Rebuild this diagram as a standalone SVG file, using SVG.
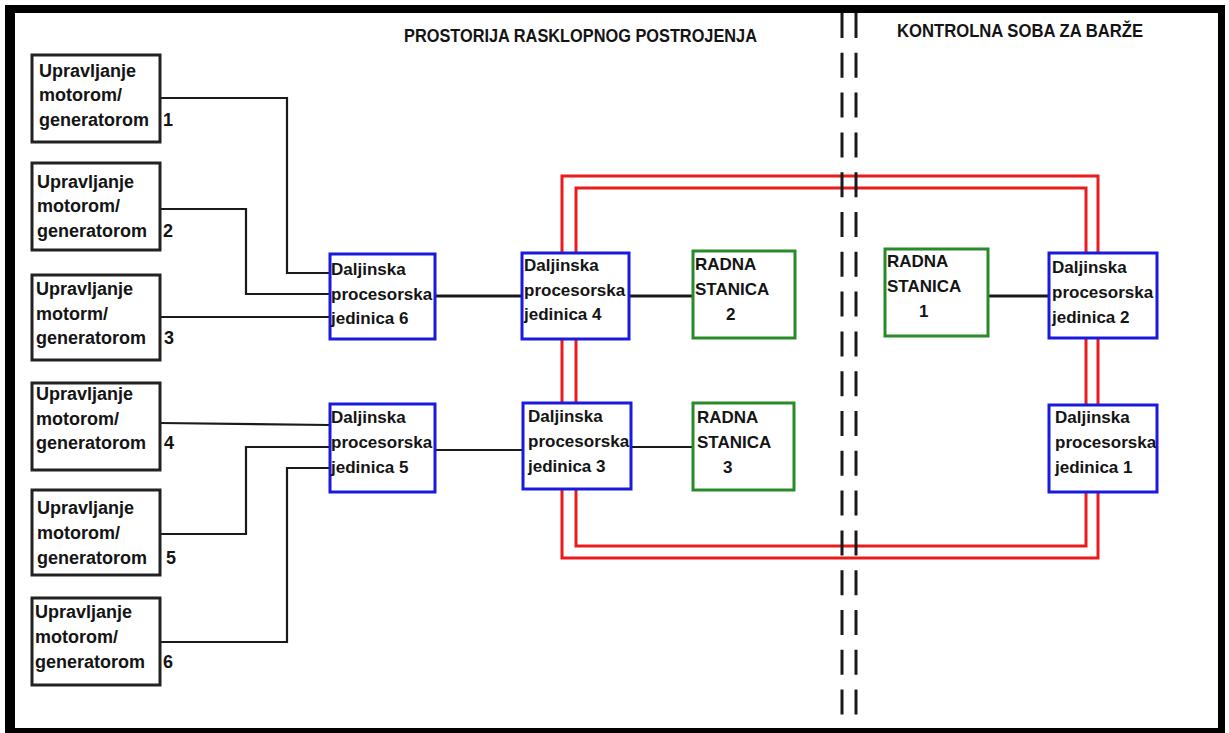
<svg xmlns="http://www.w3.org/2000/svg" width="1229" height="733" viewBox="0 0 1229 733">
<style>
text{font-family:"Liberation Sans",Arial,sans-serif;font-weight:bold;fill:#141414}
.m{font-size:18px}
.r{font-size:17px}
.h{font-size:19px}
.mb{fill:#fff;stroke:#222;stroke-width:3}
.rpu{fill:#fff;stroke:#1a1adf;stroke-width:3}
.rs{fill:#fff;stroke:#2a8a2a;stroke-width:3}
.ring{fill:none;stroke:#e81c1c;stroke-width:3}
.c{fill:none;stroke:#1a1a1a;stroke-width:2.2}
.ct{fill:none;stroke:#1a1a1a;stroke-width:3.2}
.d{stroke:#1a1a1a;stroke-width:3;stroke-dasharray:25 14.8}
</style>
<rect width="1229" height="733" fill="#fff"/>
<path d="M5 5H1225V733H5Z M15 13V728H1218V13Z" fill="#000" fill-rule="evenodd"/>
<text class="h" x="404" y="42" textLength="353" lengthAdjust="spacingAndGlyphs">PROSTORIJA RASKLOPNOG POSTROJENJA</text>
<text class="h" x="897" y="37" textLength="246" lengthAdjust="spacingAndGlyphs">KONTROLNA SOBA ZA BARŽE</text>
<g id="ring">
<rect class="ring" x="562" y="176" width="536" height="382"/>
<rect class="ring" x="576" y="188" width="510" height="358"/>
</g>
<g id="divider">
<line class="d" x1="842" y1="13" x2="842" y2="728"/>
<line class="d" x1="856" y1="13" x2="856" y2="728"/>
</g>
<g id="connectors">
<polyline class="c" points="160,98 287,98 287,273 330,273"/>
<polyline class="c" points="160,209 246,209 246,294 330,294"/>
<polyline class="c" points="160,317 330,317"/>
<polyline class="c" points="160,423 330,425"/>
<polyline class="c" points="160,534 246,534 246,447 330,447"/>
<polyline class="c" points="160,642 287,642 287,468 330,468"/>
<line class="ct" x1="435" y1="296" x2="522" y2="296"/>
<line class="c" x1="435" y1="450" x2="523" y2="450"/>
<line class="ct" x1="629" y1="296" x2="693" y2="296"/>
<line class="c" x1="631" y1="447" x2="693" y2="447"/>
<line class="ct" x1="988" y1="296" x2="1049" y2="296"/>
</g>
<g id="m1"><rect class="mb" x="32" y="55" width="128" height="87"/><text class="m" x="39"><tspan x="39" y="77">Upravljanje</tspan><tspan x="39" y="101">motorom/</tspan><tspan x="39" y="126">generatorom</tspan><tspan x="163" y="126">1</tspan></text></g>
<g id="m2"><rect class="mb" x="32" y="163" width="128" height="87"/><text class="m"><tspan x="37" y="188">Upravljanje</tspan><tspan x="37" y="212">motorom/</tspan><tspan x="37" y="237">generatorom</tspan><tspan x="163" y="237">2</tspan></text></g>
<g id="m3"><rect class="mb" x="32" y="275" width="128" height="85"/><text class="m"><tspan x="36" y="295">Upravljanje</tspan><tspan x="36" y="320">motorm/</tspan><tspan x="36" y="344">generatorom</tspan><tspan x="164" y="344">3</tspan></text></g>
<g id="m4"><rect class="mb" x="32" y="383" width="128" height="87"/><text class="m"><tspan x="36" y="400">Upravljanje</tspan><tspan x="36" y="425">motorom/</tspan><tspan x="36" y="449">generatorom</tspan><tspan x="164" y="449">4</tspan></text></g>
<g id="m5"><rect class="mb" x="32" y="490" width="128" height="85"/><text class="m"><tspan x="37" y="514">Upravljanje</tspan><tspan x="37" y="539">motorom/</tspan><tspan x="37" y="564">generatorom</tspan><tspan x="166" y="564">5</tspan></text></g>
<g id="m6"><rect class="mb" x="32" y="598" width="128" height="87"/><text class="m"><tspan x="35" y="618">Upravljanje</tspan><tspan x="35" y="643">motorom/</tspan><tspan x="35" y="668">generatorom</tspan><tspan x="163" y="668">6</tspan></text></g>
<g id="rpu6"><rect class="rpu" x="330" y="254" width="105" height="85"/><text class="r"><tspan x="331" y="275">Daljinska</tspan><tspan x="331" y="300">procesorska</tspan><tspan x="331" y="324">jedinica 6</tspan></text></g>
<g id="rpu5"><rect class="rpu" x="330" y="404" width="105" height="88"/><text class="r"><tspan x="331" y="423">Daljinska</tspan><tspan x="331" y="448">procesorska</tspan><tspan x="331" y="473">jedinica 5</tspan></text></g>
<g id="rpu4"><rect class="rpu" x="522" y="253" width="107" height="86"/><text class="r"><tspan x="524" y="271">Daljinska</tspan><tspan x="524" y="296">procesorska</tspan><tspan x="524" y="320">jedinica 4</tspan></text></g>
<g id="rpu3"><rect class="rpu" x="523" y="403" width="108" height="86"/><text class="r"><tspan x="528" y="422">Daljinska</tspan><tspan x="528" y="447">procesorska</tspan><tspan x="528" y="472">jedinica 3</tspan></text></g>
<g id="rpu2"><rect class="rpu" x="1049" y="253" width="108" height="85"/><text class="r"><tspan x="1052" y="273">Daljinska</tspan><tspan x="1052" y="298">procesorska</tspan><tspan x="1052" y="323">jedinica 2</tspan></text></g>
<g id="rpu1"><rect class="rpu" x="1049" y="405" width="108" height="87"/><text class="r"><tspan x="1055" y="423">Daljinska</tspan><tspan x="1055" y="448">procesorska</tspan><tspan x="1055" y="473">jedinica 1</tspan></text></g>
<g id="rs2"><rect class="rs" x="693" y="251" width="102" height="87"/><text class="r"><tspan x="695" y="270">RADNA</tspan><tspan x="695" y="295">STANICA</tspan><tspan x="726" y="320">2</tspan></text></g>
<g id="rs3"><rect class="rs" x="693" y="403" width="101" height="87"/><text class="r"><tspan x="697" y="423">RADNA</tspan><tspan x="697" y="448">STANICA</tspan><tspan x="723" y="473">3</tspan></text></g>
<g id="rs1"><rect class="rs" x="885" y="249" width="103" height="87"/><text class="r"><tspan x="887" y="267">RADNA</tspan><tspan x="887" y="292">STANICA</tspan><tspan x="919" y="317">1</tspan></text></g>
</svg>
